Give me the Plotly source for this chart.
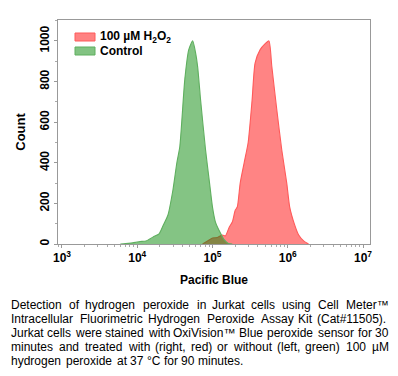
import plotly.graph_objects as go

# Control (green) histogram: fluorescence intensity vs count
ctrl_x = [5970, 7620, 9420, 10900, 13100, 16300, 19500, 22000, 25600, 29800, 33600,
          36800, 42800, 48300, 54500, 59700, 63500, 69500, 80900, 91400, 100000,
          109500, 127400, 143800, 162400, 183300]
ctrl_y = [0, 3, 8, 12, 15, 35, 50, 90, 143, 266, 400,
          480, 808, 956, 1000, 940, 872, 709, 463, 300, 182,
          108, 54, 20, 3, 0]

# 100 uM H2O2 (red) histogram
h2o2_x = [73800, 85900, 100000, 116400, 135500, 148300, 167500, 183300, 200900, 213400,
          233500, 263500, 297800, 336000, 368000, 428500, 498000, 562000, 615000,
          716000, 833000, 970000, 1062000, 1236000, 1397000, 1626000, 1890000]
h2o2_y = [0, 15, 30, 32, 44, 40, 84, 108, 167, 182,
          300, 400, 500, 709, 891, 956, 985, 1000, 872,
          660, 463, 300, 182, 94, 44, 15, 0]

x_tickvals = [1e3, 1e4, 1e5, 1e6, 1e7]
x_ticktext = ["<b>10<sup>3</sup></b>", "<b>10<sup>4</sup></b>", "<b>10<sup>5</sup></b>",
              "<b>10<sup>6</sup></b>", "<b>10<sup>7</sup></b>"]
y_tickvals = [0, 200, 400, 600, 800, 1000]

series_names = ["100 µM H<sub>2</sub>O<sub>2</sub>", "Control"]

caption_lines = [
    "Detection of hydrogen peroxide in Jurkat cells using Cell Meter™",
    "Intracellular Fluorimetric Hydrogen Peroxide Assay Kit (Cat#11505).",
    "Jurkat cells were stained with OxiVision™ Blue peroxide sensor for 30",
    "minutes and treated with (right, red) or without (left, green) 100 µM",
    "hydrogen peroxide at 37 °C for 90 minutes.",
]

FONT = "Liberation Sans, Arial, sans-serif"
RED_LINE, RED_FILL = "rgb(255,90,90)", "rgba(255,5,5,0.49)"
GRN_LINE, GRN_FILL = "rgb(95,175,95)", "rgba(5,135,5,0.49)"

# page body has an 8px margin: work in reference pixel coords and shift
OFF = 8
W, H = 398 - OFF, 376 - OFF
PL, PR, PT, PB = 58, 370, 20, 244          # plot box in reference px
pw, ph = PR - PL, PB - PT


def xp(px):
    return (px - PL) / pw


def yp(py):
    return (PB - py) / ph


fig = go.Figure()
fig.add_trace(go.Scatter(
    x=h2o2_x, y=h2o2_y, mode="lines", fill="tozeroy", name=series_names[0],
    line=dict(color=RED_LINE, width=1.1, shape="spline", smoothing=0.6),
    fillcolor=RED_FILL, showlegend=False,
))
fig.add_trace(go.Scatter(
    x=ctrl_x, y=ctrl_y, mode="lines", fill="tozeroy", name=series_names[1],
    line=dict(color=GRN_LINE, width=1.1, shape="spline", smoothing=0.6),
    fillcolor=GRN_FILL, showlegend=False,
))

fig.update_layout(
    width=W, height=H,
    margin=dict(l=PL - OFF, r=W - (PR - OFF), t=PT - OFF, b=H - (PB - OFF)),
    paper_bgcolor="white", plot_bgcolor="white",
    font=dict(family=FONT, color="black", size=12),
    xaxis=dict(
        type="log", range=[2.947, 7.093],
        tickvals=x_tickvals, ticktext=x_ticktext,
        showgrid=False, zeroline=False,
        showline=True, linecolor="#999999", linewidth=1, mirror=True,
        ticks="outside", ticklen=3, tickcolor="#999999",
        minor=dict(ticks="outside", ticklen=2, tickcolor="#aaaaaa", dtick="D1"),
        tickfont=dict(size=12),
        title=dict(text="<b>Pacific Blue</b>", font=dict(size=12), standoff=11),
    ),
    yaxis=dict(
        range=[0, 1103],
        tickvals=y_tickvals, ticktext=[f"<b>{v}</b>" for v in y_tickvals],
        tickangle=-90,
        showgrid=False, zeroline=False,
        showline=True, linecolor="#999999", linewidth=1, mirror=True,
        ticks="outside", ticklen=3, tickcolor="#999999",
        minor=dict(ticks="outside", ticklen=2, tickcolor="#aaaaaa", dtick=100),
        tickfont=dict(size=12),
        title=dict(text="<b>Count</b>", font=dict(size=13), standoff=9),
    ),
)

# manual legend (compact, as in the reference)
legend_rows = [(series_names[0], RED_LINE, "rgb(255,130,130)", 37),
               (series_names[1], GRN_LINE, "rgb(130,195,130)", 51)]
for name, lc, fc, cy in legend_rows:
    fig.add_shape(type="rect", xref="paper", yref="paper",
                  x0=xp(75), x1=xp(95), y0=yp(cy + 4), y1=yp(cy - 4),
                  line=dict(color=lc, width=1), fillcolor=fc, layer="above")
    fig.add_annotation(text=f"<b>{name}</b>", xref="paper", yref="paper",
                       x=xp(98), y=yp(cy), xanchor="left", yanchor="middle",
                       showarrow=False, font=dict(size=12, color="black"))

# justified caption, Arial metrics (Liberation Sans is metric-compatible),
# advances rounded to whole pixels as the hinted font renders them
AW = {c: 556 for c in "abdeghnopqu0123456789#"}
AW.update({"c": 500, "f": 278, "i": 222, "j": 222, "k": 500, "l": 222, "m": 833,
           "r": 333, "s": 500, "t": 278, "v": 500, "w": 722, "x": 500, "y": 500,
           "z": 500, " ": 278, "(": 333, ")": 333, ".": 278, ",": 278, "-": 333,
           "™": 1000, "µ": 577, "°": 400, "º": 365,
           "A": 667, "B": 667, "C": 722, "D": 722, "E": 667, "F": 611, "G": 778,
           "H": 722, "I": 278, "J": 500, "K": 667, "L": 556, "M": 833, "N": 722,
           "O": 778, "P": 667, "Q": 778, "R": 722, "S": 667, "T": 611, "U": 722,
           "V": 667, "W": 944, "X": 667, "Y": 667, "Z": 611})
CAP_SIZE = 12
CAP_L, CAP_R = 10, 388


def text_w(s):
    return sum(round(AW.get(ch, 556) * CAP_SIZE / 1000.0) for ch in s)


for i, line in enumerate(caption_lines):
    cy = 305 + i * 14
    words = line.split(" ")
    widths = [text_w(w) for w in words]
    if i < len(caption_lines) - 1:
        gap = (CAP_R - CAP_L - sum(widths)) / (len(words) - 1)
    else:
        gap = text_w(" ")
    xpos = CAP_L
    for w, wd in zip(words, widths):
        fig.add_annotation(
            text=w, xref="paper", yref="paper",
            x=xp(xpos - 1), y=yp(cy), xanchor="left", yanchor="middle",
            showarrow=False, font=dict(family=FONT, size=CAP_SIZE, color="black"),
        )
        xpos += wd + gap

fig.write_html("out.html")
